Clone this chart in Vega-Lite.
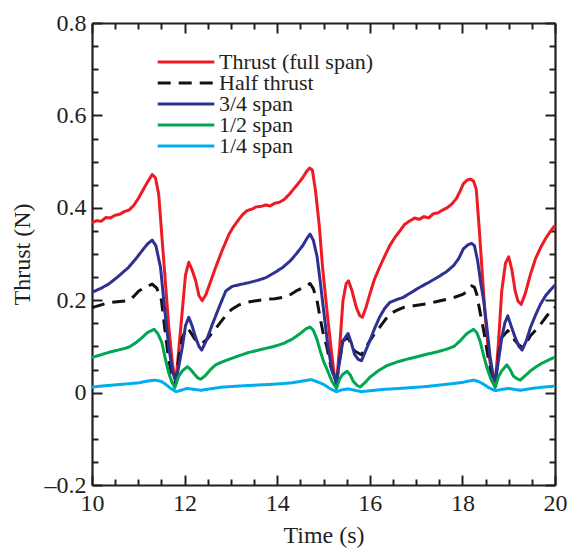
{
"$schema": "https://vega.github.io/schema/vega-lite/v6.json",
"width": 463, "height": 462,
"autosize": {"type": "none"},
"padding": {"left": 92, "top": 23, "right": 13, "bottom": 63},
"config": {"font": "Liberation Serif", "view": {"stroke": null},
  "axis": {"grid": false, "domainColor": "#231f20", "domainWidth": 2.2, "tickColor": "#231f20", "tickWidth": 2,
    "labelFont": "Liberation Serif", "labelFontSize": 24, "labelColor": "#231f20",
    "titleFont": "Liberation Serif", "titleFontSize": 24, "titleColor": "#231f20", "titleFontWeight": "normal"}},
"datasets": {
"d": [
{"s":"Thrust (full span)","t":10.0,"v":0.368},{"s":"Thrust (full span)","t":10.1,"v":0.372},{"s":"Thrust (full span)","t":10.2,"v":0.371},{"s":"Thrust (full span)","t":10.3,"v":0.379},{"s":"Thrust (full span)","t":10.4,"v":0.378},{"s":"Thrust (full span)","t":10.5,"v":0.384},{"s":"Thrust (full span)","t":10.6,"v":0.386},{"s":"Thrust (full span)","t":10.7,"v":0.392},{"s":"Thrust (full span)","t":10.8,"v":0.395},{"s":"Thrust (full span)","t":10.9,"v":0.405},{"s":"Thrust (full span)","t":11.0,"v":0.42},{"s":"Thrust (full span)","t":11.1,"v":0.438},{"s":"Thrust (full span)","t":11.2,"v":0.456},{"s":"Thrust (full span)","t":11.3,"v":0.472},{"s":"Thrust (full span)","t":11.37,"v":0.465},{"s":"Thrust (full span)","t":11.44,"v":0.43},{"s":"Thrust (full span)","t":11.55,"v":0.285},{"s":"Thrust (full span)","t":11.66,"v":0.141},{"s":"Thrust (full span)","t":11.74,"v":0.06},{"s":"Thrust (full span)","t":11.81,"v":0.022},{"s":"Thrust (full span)","t":11.88,"v":0.1},{"s":"Thrust (full span)","t":11.95,"v":0.177},{"s":"Thrust (full span)","t":12.02,"v":0.255},{"s":"Thrust (full span)","t":12.09,"v":0.282},{"s":"Thrust (full span)","t":12.16,"v":0.266},{"s":"Thrust (full span)","t":12.24,"v":0.242},{"s":"Thrust (full span)","t":12.31,"v":0.21},{"s":"Thrust (full span)","t":12.38,"v":0.199},{"s":"Thrust (full span)","t":12.46,"v":0.212},{"s":"Thrust (full span)","t":12.56,"v":0.24},{"s":"Thrust (full span)","t":12.67,"v":0.271},{"s":"Thrust (full span)","t":12.8,"v":0.305},{"s":"Thrust (full span)","t":12.96,"v":0.343},{"s":"Thrust (full span)","t":13.05,"v":0.358},{"s":"Thrust (full span)","t":13.15,"v":0.372},{"s":"Thrust (full span)","t":13.25,"v":0.385},{"s":"Thrust (full span)","t":13.35,"v":0.394},{"s":"Thrust (full span)","t":13.45,"v":0.397},{"s":"Thrust (full span)","t":13.55,"v":0.402},{"s":"Thrust (full span)","t":13.65,"v":0.403},{"s":"Thrust (full span)","t":13.75,"v":0.406},{"s":"Thrust (full span)","t":13.85,"v":0.404},{"s":"Thrust (full span)","t":13.95,"v":0.41},{"s":"Thrust (full span)","t":14.05,"v":0.412},{"s":"Thrust (full span)","t":14.15,"v":0.418},{"s":"Thrust (full span)","t":14.25,"v":0.428},{"s":"Thrust (full span)","t":14.35,"v":0.44},{"s":"Thrust (full span)","t":14.45,"v":0.452},{"s":"Thrust (full span)","t":14.55,"v":0.465},{"s":"Thrust (full span)","t":14.63,"v":0.478},{"s":"Thrust (full span)","t":14.7,"v":0.486},{"s":"Thrust (full span)","t":14.76,"v":0.482},{"s":"Thrust (full span)","t":14.83,"v":0.435},{"s":"Thrust (full span)","t":14.91,"v":0.36},{"s":"Thrust (full span)","t":14.98,"v":0.271},{"s":"Thrust (full span)","t":15.09,"v":0.163},{"s":"Thrust (full span)","t":15.17,"v":0.09},{"s":"Thrust (full span)","t":15.23,"v":0.04},{"s":"Thrust (full span)","t":15.28,"v":0.02},{"s":"Thrust (full span)","t":15.35,"v":0.1},{"s":"Thrust (full span)","t":15.42,"v":0.199},{"s":"Thrust (full span)","t":15.49,"v":0.236},{"s":"Thrust (full span)","t":15.54,"v":0.242},{"s":"Thrust (full span)","t":15.61,"v":0.222},{"s":"Thrust (full span)","t":15.71,"v":0.184},{"s":"Thrust (full span)","t":15.78,"v":0.167},{"s":"Thrust (full span)","t":15.84,"v":0.163},{"s":"Thrust (full span)","t":15.92,"v":0.185},{"s":"Thrust (full span)","t":16.0,"v":0.213},{"s":"Thrust (full span)","t":16.1,"v":0.245},{"s":"Thrust (full span)","t":16.21,"v":0.271},{"s":"Thrust (full span)","t":16.32,"v":0.295},{"s":"Thrust (full span)","t":16.43,"v":0.318},{"s":"Thrust (full span)","t":16.55,"v":0.337},{"s":"Thrust (full span)","t":16.65,"v":0.35},{"s":"Thrust (full span)","t":16.75,"v":0.364},{"s":"Thrust (full span)","t":16.87,"v":0.372},{"s":"Thrust (full span)","t":16.97,"v":0.378},{"s":"Thrust (full span)","t":17.07,"v":0.375},{"s":"Thrust (full span)","t":17.17,"v":0.381},{"s":"Thrust (full span)","t":17.27,"v":0.378},{"s":"Thrust (full span)","t":17.37,"v":0.387},{"s":"Thrust (full span)","t":17.47,"v":0.389},{"s":"Thrust (full span)","t":17.57,"v":0.395},{"s":"Thrust (full span)","t":17.67,"v":0.4},{"s":"Thrust (full span)","t":17.77,"v":0.408},{"s":"Thrust (full span)","t":17.87,"v":0.42},{"s":"Thrust (full span)","t":17.95,"v":0.436},{"s":"Thrust (full span)","t":18.02,"v":0.452},{"s":"Thrust (full span)","t":18.1,"v":0.46},{"s":"Thrust (full span)","t":18.17,"v":0.462},{"s":"Thrust (full span)","t":18.24,"v":0.458},{"s":"Thrust (full span)","t":18.3,"v":0.44},{"s":"Thrust (full span)","t":18.36,"v":0.36},{"s":"Thrust (full span)","t":18.42,"v":0.271},{"s":"Thrust (full span)","t":18.49,"v":0.17},{"s":"Thrust (full span)","t":18.56,"v":0.09},{"s":"Thrust (full span)","t":18.64,"v":0.04},{"s":"Thrust (full span)","t":18.71,"v":0.02},{"s":"Thrust (full span)","t":18.78,"v":0.11},{"s":"Thrust (full span)","t":18.85,"v":0.22},{"s":"Thrust (full span)","t":18.93,"v":0.28},{"s":"Thrust (full span)","t":19.0,"v":0.294},{"s":"Thrust (full span)","t":19.07,"v":0.265},{"s":"Thrust (full span)","t":19.14,"v":0.22},{"s":"Thrust (full span)","t":19.2,"v":0.198},{"s":"Thrust (full span)","t":19.27,"v":0.191},{"s":"Thrust (full span)","t":19.36,"v":0.215},{"s":"Thrust (full span)","t":19.47,"v":0.256},{"s":"Thrust (full span)","t":19.58,"v":0.29},{"s":"Thrust (full span)","t":19.69,"v":0.314},{"s":"Thrust (full span)","t":19.8,"v":0.334},{"s":"Thrust (full span)","t":19.9,"v":0.349},{"s":"Thrust (full span)","t":20.0,"v":0.362},
{"s":"Half thrust","t":10.0,"v":0.184},{"s":"Half thrust","t":10.2,"v":0.19},{"s":"Half thrust","t":10.36,"v":0.195},{"s":"Half thrust","t":10.6,"v":0.197},{"s":"Half thrust","t":10.79,"v":0.199},{"s":"Half thrust","t":10.9,"v":0.208},{"s":"Half thrust","t":11.01,"v":0.22},{"s":"Half thrust","t":11.15,"v":0.228},{"s":"Half thrust","t":11.3,"v":0.235},{"s":"Half thrust","t":11.4,"v":0.226},{"s":"Half thrust","t":11.5,"v":0.2},{"s":"Half thrust","t":11.57,"v":0.14},{"s":"Half thrust","t":11.65,"v":0.075},{"s":"Half thrust","t":11.73,"v":0.035},{"s":"Half thrust","t":11.81,"v":0.02},{"s":"Half thrust","t":11.88,"v":0.08},{"s":"Half thrust","t":11.95,"v":0.119},{"s":"Half thrust","t":12.05,"v":0.141},{"s":"Half thrust","t":12.12,"v":0.132},{"s":"Half thrust","t":12.22,"v":0.116},{"s":"Half thrust","t":12.36,"v":0.105},{"s":"Half thrust","t":12.48,"v":0.115},{"s":"Half thrust","t":12.6,"v":0.13},{"s":"Half thrust","t":12.72,"v":0.145},{"s":"Half thrust","t":12.82,"v":0.158},{"s":"Half thrust","t":12.93,"v":0.172},{"s":"Half thrust","t":13.03,"v":0.181},{"s":"Half thrust","t":13.18,"v":0.19},{"s":"Half thrust","t":13.32,"v":0.195},{"s":"Half thrust","t":13.55,"v":0.199},{"s":"Half thrust","t":13.76,"v":0.202},{"s":"Half thrust","t":13.95,"v":0.203},{"s":"Half thrust","t":14.12,"v":0.206},{"s":"Half thrust","t":14.28,"v":0.212},{"s":"Half thrust","t":14.41,"v":0.22},{"s":"Half thrust","t":14.58,"v":0.228},{"s":"Half thrust","t":14.71,"v":0.236},{"s":"Half thrust","t":14.78,"v":0.225},{"s":"Half thrust","t":14.86,"v":0.2},{"s":"Half thrust","t":14.93,"v":0.16},{"s":"Half thrust","t":15.0,"v":0.125},{"s":"Half thrust","t":15.07,"v":0.1},{"s":"Half thrust","t":15.16,"v":0.055},{"s":"Half thrust","t":15.28,"v":0.02},{"s":"Half thrust","t":15.35,"v":0.07},{"s":"Half thrust","t":15.42,"v":0.112},{"s":"Half thrust","t":15.53,"v":0.119},{"s":"Half thrust","t":15.6,"v":0.105},{"s":"Half thrust","t":15.67,"v":0.09},{"s":"Half thrust","t":15.82,"v":0.082},{"s":"Half thrust","t":15.9,"v":0.095},{"s":"Half thrust","t":16.0,"v":0.112},{"s":"Half thrust","t":16.1,"v":0.127},{"s":"Half thrust","t":16.21,"v":0.141},{"s":"Half thrust","t":16.32,"v":0.156},{"s":"Half thrust","t":16.43,"v":0.17},{"s":"Half thrust","t":16.58,"v":0.178},{"s":"Half thrust","t":16.72,"v":0.184},{"s":"Half thrust","t":16.95,"v":0.188},{"s":"Half thrust","t":17.23,"v":0.192},{"s":"Half thrust","t":17.45,"v":0.197},{"s":"Half thrust","t":17.66,"v":0.202},{"s":"Half thrust","t":17.85,"v":0.207},{"s":"Half thrust","t":18.02,"v":0.213},{"s":"Half thrust","t":18.12,"v":0.222},{"s":"Half thrust","t":18.2,"v":0.231},{"s":"Half thrust","t":18.26,"v":0.228},{"s":"Half thrust","t":18.31,"v":0.213},{"s":"Half thrust","t":18.38,"v":0.175},{"s":"Half thrust","t":18.46,"v":0.134},{"s":"Half thrust","t":18.55,"v":0.08},{"s":"Half thrust","t":18.63,"v":0.04},{"s":"Half thrust","t":18.71,"v":0.02},{"s":"Half thrust","t":18.78,"v":0.08},{"s":"Half thrust","t":18.85,"v":0.119},{"s":"Half thrust","t":18.98,"v":0.134},{"s":"Half thrust","t":19.06,"v":0.125},{"s":"Half thrust","t":19.14,"v":0.112},{"s":"Half thrust","t":19.22,"v":0.103},{"s":"Half thrust","t":19.29,"v":0.098},{"s":"Half thrust","t":19.38,"v":0.108},{"s":"Half thrust","t":19.47,"v":0.123},{"s":"Half thrust","t":19.58,"v":0.135},{"s":"Half thrust","t":19.69,"v":0.148},{"s":"Half thrust","t":19.8,"v":0.163},{"s":"Half thrust","t":19.9,"v":0.175},{"s":"Half thrust","t":20.0,"v":0.185},
{"s":"3/4 span","t":10.0,"v":0.217},{"s":"3/4 span","t":10.2,"v":0.226},{"s":"3/4 span","t":10.36,"v":0.235},{"s":"3/4 span","t":10.55,"v":0.25},{"s":"3/4 span","t":10.79,"v":0.271},{"s":"3/4 span","t":10.95,"v":0.29},{"s":"3/4 span","t":11.08,"v":0.307},{"s":"3/4 span","t":11.2,"v":0.322},{"s":"3/4 span","t":11.3,"v":0.33},{"s":"3/4 span","t":11.38,"v":0.318},{"s":"3/4 span","t":11.48,"v":0.271},{"s":"3/4 span","t":11.57,"v":0.18},{"s":"3/4 span","t":11.66,"v":0.098},{"s":"3/4 span","t":11.74,"v":0.045},{"s":"3/4 span","t":11.81,"v":0.024},{"s":"3/4 span","t":11.88,"v":0.06},{"s":"3/4 span","t":11.95,"v":0.098},{"s":"3/4 span","t":12.02,"v":0.145},{"s":"3/4 span","t":12.09,"v":0.163},{"s":"3/4 span","t":12.16,"v":0.145},{"s":"3/4 span","t":12.24,"v":0.119},{"s":"3/4 span","t":12.31,"v":0.1},{"s":"3/4 span","t":12.37,"v":0.092},{"s":"3/4 span","t":12.48,"v":0.115},{"s":"3/4 span","t":12.6,"v":0.148},{"s":"3/4 span","t":12.75,"v":0.186},{"s":"3/4 span","t":12.89,"v":0.22},{"s":"3/4 span","t":13.03,"v":0.23},{"s":"3/4 span","t":13.2,"v":0.234},{"s":"3/4 span","t":13.39,"v":0.238},{"s":"3/4 span","t":13.58,"v":0.243},{"s":"3/4 span","t":13.76,"v":0.249},{"s":"3/4 span","t":13.95,"v":0.26},{"s":"3/4 span","t":14.12,"v":0.271},{"s":"3/4 span","t":14.28,"v":0.285},{"s":"3/4 span","t":14.41,"v":0.3},{"s":"3/4 span","t":14.55,"v":0.318},{"s":"3/4 span","t":14.65,"v":0.335},{"s":"3/4 span","t":14.71,"v":0.343},{"s":"3/4 span","t":14.78,"v":0.33},{"s":"3/4 span","t":14.86,"v":0.295},{"s":"3/4 span","t":14.93,"v":0.24},{"s":"3/4 span","t":15.0,"v":0.18},{"s":"3/4 span","t":15.09,"v":0.105},{"s":"3/4 span","t":15.18,"v":0.05},{"s":"3/4 span","t":15.28,"v":0.02},{"s":"3/4 span","t":15.35,"v":0.07},{"s":"3/4 span","t":15.42,"v":0.112},{"s":"3/4 span","t":15.53,"v":0.128},{"s":"3/4 span","t":15.6,"v":0.108},{"s":"3/4 span","t":15.67,"v":0.083},{"s":"3/4 span","t":15.75,"v":0.072},{"s":"3/4 span","t":15.82,"v":0.069},{"s":"3/4 span","t":15.9,"v":0.088},{"s":"3/4 span","t":16.0,"v":0.112},{"s":"3/4 span","t":16.1,"v":0.138},{"s":"3/4 span","t":16.21,"v":0.163},{"s":"3/4 span","t":16.32,"v":0.182},{"s":"3/4 span","t":16.43,"v":0.195},{"s":"3/4 span","t":16.6,"v":0.202},{"s":"3/4 span","t":16.72,"v":0.206},{"s":"3/4 span","t":16.9,"v":0.217},{"s":"3/4 span","t":17.08,"v":0.228},{"s":"3/4 span","t":17.3,"v":0.24},{"s":"3/4 span","t":17.52,"v":0.253},{"s":"3/4 span","t":17.66,"v":0.262},{"s":"3/4 span","t":17.81,"v":0.275},{"s":"3/4 span","t":17.92,"v":0.29},{"s":"3/4 span","t":18.02,"v":0.311},{"s":"3/4 span","t":18.12,"v":0.32},{"s":"3/4 span","t":18.2,"v":0.323},{"s":"3/4 span","t":18.26,"v":0.318},{"s":"3/4 span","t":18.33,"v":0.285},{"s":"3/4 span","t":18.4,"v":0.235},{"s":"3/4 span","t":18.46,"v":0.199},{"s":"3/4 span","t":18.53,"v":0.14},{"s":"3/4 span","t":18.6,"v":0.076},{"s":"3/4 span","t":18.66,"v":0.04},{"s":"3/4 span","t":18.71,"v":0.025},{"s":"3/4 span","t":18.78,"v":0.07},{"s":"3/4 span","t":18.85,"v":0.119},{"s":"3/4 span","t":18.92,"v":0.152},{"s":"3/4 span","t":18.98,"v":0.166},{"s":"3/4 span","t":19.05,"v":0.145},{"s":"3/4 span","t":19.14,"v":0.119},{"s":"3/4 span","t":19.22,"v":0.1},{"s":"3/4 span","t":19.29,"v":0.092},{"s":"3/4 span","t":19.38,"v":0.112},{"s":"3/4 span","t":19.47,"v":0.141},{"s":"3/4 span","t":19.58,"v":0.168},{"s":"3/4 span","t":19.69,"v":0.192},{"s":"3/4 span","t":19.8,"v":0.21},{"s":"3/4 span","t":19.9,"v":0.222},{"s":"3/4 span","t":20.0,"v":0.233},
{"s":"1/2 span","t":10.0,"v":0.076},{"s":"1/2 span","t":10.2,"v":0.082},{"s":"1/2 span","t":10.36,"v":0.087},{"s":"1/2 span","t":10.6,"v":0.093},{"s":"1/2 span","t":10.79,"v":0.098},{"s":"1/2 span","t":10.95,"v":0.108},{"s":"1/2 span","t":11.08,"v":0.119},{"s":"1/2 span","t":11.2,"v":0.13},{"s":"1/2 span","t":11.34,"v":0.137},{"s":"1/2 span","t":11.42,"v":0.128},{"s":"1/2 span","t":11.51,"v":0.108},{"s":"1/2 span","t":11.58,"v":0.075},{"s":"1/2 span","t":11.65,"v":0.045},{"s":"1/2 span","t":11.72,"v":0.024},{"s":"1/2 span","t":11.79,"v":0.011},{"s":"1/2 span","t":11.87,"v":0.035},{"s":"1/2 span","t":11.95,"v":0.047},{"s":"1/2 span","t":12.06,"v":0.056},{"s":"1/2 span","t":12.13,"v":0.05},{"s":"1/2 span","t":12.21,"v":0.04},{"s":"1/2 span","t":12.28,"v":0.032},{"s":"1/2 span","t":12.35,"v":0.029},{"s":"1/2 span","t":12.45,"v":0.037},{"s":"1/2 span","t":12.56,"v":0.05},{"s":"1/2 span","t":12.67,"v":0.06},{"s":"1/2 span","t":12.8,"v":0.066},{"s":"1/2 span","t":12.96,"v":0.072},{"s":"1/2 span","t":13.18,"v":0.08},{"s":"1/2 span","t":13.39,"v":0.087},{"s":"1/2 span","t":13.68,"v":0.094},{"s":"1/2 span","t":13.97,"v":0.101},{"s":"1/2 span","t":14.15,"v":0.107},{"s":"1/2 span","t":14.33,"v":0.116},{"s":"1/2 span","t":14.5,"v":0.128},{"s":"1/2 span","t":14.62,"v":0.138},{"s":"1/2 span","t":14.71,"v":0.142},{"s":"1/2 span","t":14.78,"v":0.135},{"s":"1/2 span","t":14.86,"v":0.115},{"s":"1/2 span","t":14.93,"v":0.09},{"s":"1/2 span","t":15.0,"v":0.068},{"s":"1/2 span","t":15.09,"v":0.047},{"s":"1/2 span","t":15.18,"v":0.025},{"s":"1/2 span","t":15.28,"v":0.009},{"s":"1/2 span","t":15.35,"v":0.03},{"s":"1/2 span","t":15.42,"v":0.04},{"s":"1/2 span","t":15.51,"v":0.046},{"s":"1/2 span","t":15.58,"v":0.038},{"s":"1/2 span","t":15.64,"v":0.025},{"s":"1/2 span","t":15.72,"v":0.016},{"s":"1/2 span","t":15.79,"v":0.012},{"s":"1/2 span","t":15.9,"v":0.022},{"s":"1/2 span","t":16.0,"v":0.033},{"s":"1/2 span","t":16.18,"v":0.047},{"s":"1/2 span","t":16.36,"v":0.058},{"s":"1/2 span","t":16.58,"v":0.066},{"s":"1/2 span","t":16.79,"v":0.072},{"s":"1/2 span","t":17.0,"v":0.077},{"s":"1/2 span","t":17.23,"v":0.083},{"s":"1/2 span","t":17.45,"v":0.088},{"s":"1/2 span","t":17.66,"v":0.094},{"s":"1/2 span","t":17.82,"v":0.1},{"s":"1/2 span","t":17.95,"v":0.112},{"s":"1/2 span","t":18.1,"v":0.128},{"s":"1/2 span","t":18.24,"v":0.137},{"s":"1/2 span","t":18.31,"v":0.13},{"s":"1/2 span","t":18.38,"v":0.112},{"s":"1/2 span","t":18.46,"v":0.08},{"s":"1/2 span","t":18.53,"v":0.054},{"s":"1/2 span","t":18.62,"v":0.028},{"s":"1/2 span","t":18.71,"v":0.011},{"s":"1/2 span","t":18.78,"v":0.035},{"s":"1/2 span","t":18.85,"v":0.047},{"s":"1/2 span","t":18.96,"v":0.06},{"s":"1/2 span","t":19.03,"v":0.05},{"s":"1/2 span","t":19.1,"v":0.036},{"s":"1/2 span","t":19.18,"v":0.03},{"s":"1/2 span","t":19.25,"v":0.027},{"s":"1/2 span","t":19.36,"v":0.037},{"s":"1/2 span","t":19.47,"v":0.047},{"s":"1/2 span","t":19.58,"v":0.055},{"s":"1/2 span","t":19.69,"v":0.062},{"s":"1/2 span","t":19.85,"v":0.07},{"s":"1/2 span","t":20.0,"v":0.077},
{"s":"1/4 span","t":10.0,"v":0.012},{"s":"1/4 span","t":10.3,"v":0.015},{"s":"1/4 span","t":10.65,"v":0.018},{"s":"1/4 span","t":11.0,"v":0.021},{"s":"1/4 span","t":11.2,"v":0.025},{"s":"1/4 span","t":11.37,"v":0.027},{"s":"1/4 span","t":11.5,"v":0.024},{"s":"1/4 span","t":11.59,"v":0.018},{"s":"1/4 span","t":11.7,"v":0.009},{"s":"1/4 span","t":11.82,"v":0.002},{"s":"1/4 span","t":11.92,"v":0.005},{"s":"1/4 span","t":12.05,"v":0.009},{"s":"1/4 span","t":12.2,"v":0.007},{"s":"1/4 span","t":12.35,"v":0.005},{"s":"1/4 span","t":12.55,"v":0.008},{"s":"1/4 span","t":12.82,"v":0.012},{"s":"1/4 span","t":13.3,"v":0.015},{"s":"1/4 span","t":13.9,"v":0.018},{"s":"1/4 span","t":14.3,"v":0.021},{"s":"1/4 span","t":14.55,"v":0.025},{"s":"1/4 span","t":14.73,"v":0.028},{"s":"1/4 span","t":14.85,"v":0.024},{"s":"1/4 span","t":15.0,"v":0.018},{"s":"1/4 span","t":15.15,"v":0.008},{"s":"1/4 span","t":15.28,"v":0.002},{"s":"1/4 span","t":15.4,"v":0.006},{"s":"1/4 span","t":15.53,"v":0.008},{"s":"1/4 span","t":15.68,"v":0.005},{"s":"1/4 span","t":15.82,"v":0.002},{"s":"1/4 span","t":16.0,"v":0.004},{"s":"1/4 span","t":16.3,"v":0.007},{"s":"1/4 span","t":16.65,"v":0.009},{"s":"1/4 span","t":17.2,"v":0.013},{"s":"1/4 span","t":17.66,"v":0.018},{"s":"1/4 span","t":18.0,"v":0.022},{"s":"1/4 span","t":18.24,"v":0.027},{"s":"1/4 span","t":18.35,"v":0.024},{"s":"1/4 span","t":18.46,"v":0.018},{"s":"1/4 span","t":18.58,"v":0.01},{"s":"1/4 span","t":18.71,"v":0.004},{"s":"1/4 span","t":18.85,"v":0.007},{"s":"1/4 span","t":19.0,"v":0.009},{"s":"1/4 span","t":19.12,"v":0.007},{"s":"1/4 span","t":19.25,"v":0.005},{"s":"1/4 span","t":19.5,"v":0.009},{"s":"1/4 span","t":19.75,"v":0.012},{"s":"1/4 span","t":20.0,"v":0.014}
]},
"data": {"name": "d"},
"layer": [
 {"mark": {"type": "line", "strokeWidth": 3, "strokeJoin": "round"},
  "encoding": {
   "x": {"field": "t", "type": "quantitative", "scale": {"domain": [10, 20], "nice": false, "zero": false},
     "axis": {"orient": "bottom", "title": "Time (s)", "values": [10,10.5,11,11.5,12,12.5,13,13.5,14,14.5,15,15.5,16,16.5,17,17.5,18,18.5,19,19.5,20],
       "labelExpr": "datum.value % 2 == 0 ? format(datum.value, 'd') : ''",
       "tickSize": {"condition": {"test": "datum.value % 2 == 0", "value": -10}, "value": -6},
       "labelPadding": 16, "titlePadding": 8, "labelFlush": false}},
   "y": {"field": "v", "type": "quantitative", "scale": {"domain": [-0.2, 0.8], "nice": false, "zero": false},
     "axis": {"orient": "left", "title": "Thrust (N)", "values": [-0.2,-0.15,-0.1,-0.05,0,0.05,0.1,0.15,0.2,0.25,0.3,0.35,0.4,0.45,0.5,0.55,0.6,0.65,0.7,0.75,0.8],
       "labelExpr": "round(datum.value*20) % 4 == 0 ? (datum.value == 0 ? '0' : (datum.value < 0 ? '–' : '') + format(abs(datum.value), '.1f')) : ''",
       "tickSize": {"condition": {"test": "round(datum.value*20) % 4 == 0", "value": -10}, "value": -6},
       "labelPadding": 16, "titlePadding": 10, "labelFlush": false}},
   "color": {"field": "s", "type": "nominal",
     "scale": {"domain": ["Thrust (full span)", "Half thrust", "3/4 span", "1/2 span", "1/4 span"], "range": ["#ed1c24", "#111111", "#2e3192", "#00a651", "#00aeef"]},
     "legend": {"orient": "none", "legendX": 64, "legendY": 29, "title": null, "symbolType": "stroke", "symbolStrokeWidth": 3, "symbolSize": 3200, "labelFont": "Liberation Serif", "labelFontSize": 22, "labelColor": "#231f20", "labelOffset": 3, "labelLimit": 400, "rowPadding": -6, "clipHeight": 20}},
   "strokeDash": {"field": "s", "type": "nominal",
     "scale": {"domain": ["Thrust (full span)", "Half thrust", "3/4 span", "1/2 span", "1/4 span"], "range": [[1, 0], [13, 8], [1, 0], [1, 0], [1, 0]]},
     "legend": {"orient": "none", "legendX": 64, "legendY": 29, "title": null, "symbolType": "stroke", "symbolStrokeWidth": 3, "symbolSize": 3200, "labelFont": "Liberation Serif", "labelFontSize": 22, "labelColor": "#231f20", "labelOffset": 3, "labelLimit": 400, "rowPadding": -6, "clipHeight": 20}}
  }},
 {"mark": {"type": "line", "opacity": 0},
  "encoding": {
   "x": {"field": "t", "type": "quantitative",
     "axis": {"orient": "top", "title": null, "labels": false, "values": [10,10.5,11,11.5,12,12.5,13,13.5,14,14.5,15,15.5,16,16.5,17,17.5,18,18.5,19,19.5,20],
       "tickSize": {"condition": {"test": "datum.value % 2 == 0", "value": -10}, "value": -6}}},
   "y": {"field": "v", "type": "quantitative",
     "axis": {"orient": "right", "title": null, "labels": false, "values": [-0.2,-0.15,-0.1,-0.05,0,0.05,0.1,0.15,0.2,0.25,0.3,0.35,0.4,0.45,0.5,0.55,0.6,0.65,0.7,0.75,0.8],
       "tickSize": {"condition": {"test": "round(datum.value*20) % 4 == 0", "value": -10}, "value": -6}}},
   "detail": {"field": "s"}
  }}
],
"resolve": {"axis": {"x": "independent", "y": "independent"}}
}
